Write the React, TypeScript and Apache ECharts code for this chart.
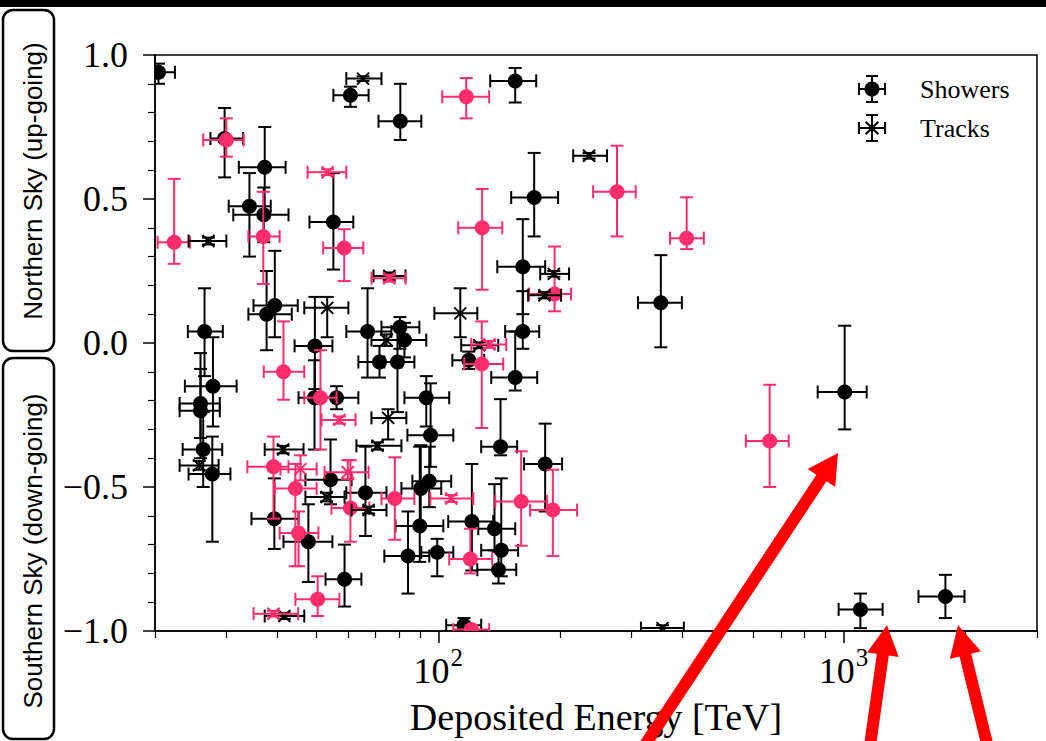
import React, { useEffect, useRef } from 'react';
import * as echarts from 'echarts';

// Each row: [energy, energyLow, energyHigh, cosZenith, cosZenithLow, cosZenithHigh]
const showersBlack: number[][] = [
  [20.4, 18.6, 22.4, 0.94, 0.90, 0.97],
  [29.7, 27.4, 33.0, 0.71, 0.575, 0.816],
  [37.3, 32.2, 42.0, 0.61, 0.45, 0.75],
  [34.2, 30.4, 38.6, 0.475, 0.30, 0.59],
  [37.1, 31.2, 42.7, 0.445, 0.35, 0.54],
  [55.1, 48.1, 61.7, 0.42, 0.255, 0.59],
  [60.7, 55.1, 67.3, 0.86, 0.82, 0.89],
  [80.6, 71.2, 90.8, 0.77, 0.705, 0.90],
  [154.8, 134.3, 174.4, 0.91, 0.835, 0.955],
  [172.4, 151.3, 197.5, 0.505, 0.37, 0.66],
  [161.6, 139.8, 183.5, 0.265, 0.10, 0.43],
  [161.6, 146.2, 177.4, 0.04, -0.02, 0.18],
  [354, 311, 399, 0.14, -0.015, 0.305],
  [1006, 863, 1140, -0.17, -0.30, 0.06],
  [1100, 972, 1248, -0.925, -0.99, -0.87],
  [1783, 1530, 1987, -0.88, -0.955, -0.805],
  [26.5, 24.1, 29.4, 0.04, -0.115, 0.19],
  [27.8, 23.7, 31.8, -0.15, -0.29, 0.02],
  [25.9, 23.0, 28.9, -0.21, -0.33, -0.035],
  [25.9, 23.0, 28.9, -0.235, -0.40, -0.09],
  [26.3, 23.4, 29.3, -0.37, -0.50, -0.24],
  [27.7, 24.2, 30.7, -0.455, -0.69, -0.325],
  [39.5, 35.0, 45.0, 0.13, 0.02, 0.32],
  [37.7, 34.0, 43.5, 0.10, -0.025, 0.25],
  [66.9, 59.3, 76.6, 0.04, -0.12, 0.19],
  [49.6, 44.2, 54.8, -0.01, -0.16, 0.16],
  [49.5, 45.2, 56.1, -0.19, -0.37, -0.06],
  [56.1, 50.9, 63.5, -0.19, -0.23, -0.15],
  [54.2, 47.0, 61.1, -0.475, -0.56, -0.335],
  [39.4, 34.6, 45.2, -0.61, -0.715, -0.47],
  [47.8, 41.5, 54.8, -0.69, -0.83, -0.56],
  [58.7, 52.7, 64.6, -0.82, -0.915, -0.70],
  [66.1, 59.3, 74.5, -0.52, -0.67, -0.36],
  [71.6, 63.5, 81.1, -0.066, -0.12, -0.01],
  [79.3, 73.6, 87.3, -0.066, -0.24, 0.05],
  [80.4, 72.4, 89.8, 0.055, -0.02, 0.09],
  [82.5, 73.6, 93.4, 0.01, -0.05, 0.07],
  [93.4, 82.5, 106.4, -0.19, -0.29, -0.115],
  [95.7, 83.9, 108.9, -0.32, -0.43, -0.14],
  [95.0, 86.3, 107.6, -0.48, -0.57, -0.36],
  [90.5, 81.1, 101.7, -0.505, -0.63, -0.355],
  [90.0, 78.4, 102.9, -0.635, -0.76, -0.36],
  [84.2, 73.6, 95.0, -0.74, -0.87, -0.585],
  [99.4, 90.8, 108.9, -0.727, -0.81, -0.68],
  [121.0, 105.8, 136.6, -0.62, -0.79, -0.42],
  [137.6, 125.5, 154.8, -0.645, -0.72, -0.49],
  [143.0, 127.6, 157.4, -0.72, -0.81, -0.47],
  [140.8, 124.8, 155.7, -0.787, -0.835, -0.725],
  [142.4, 127.6, 156.5, -0.36, -0.39, -0.195],
  [183.5, 162.8, 202.0, -0.42, -0.585, -0.28],
  [154.8, 135.1, 175.4, -0.12, -0.165, 0.04],
  [118.9, 108.3, 129.8, -0.06, -0.09, -0.03],
  [115.7, 104.6, 127.6, -0.98, -1.01, -0.955],
];

const showersPink: number[][] = [
  [30.0, 26.3, 33.1, 0.705, 0.647, 0.78],
  [22.3, 20.3, 24.4, 0.35, 0.275, 0.57],
  [37.0, 34.0, 40.6, 0.37, 0.205, 0.525],
  [58.6, 52.0, 65.3, 0.33, 0.215, 0.395],
  [117.2, 102.3, 133.5, 0.855, 0.78, 0.92],
  [128.3, 112.0, 143.8, 0.40, 0.185, 0.535],
  [276, 241, 307, 0.525, 0.37, 0.685],
  [410, 373, 452, 0.364, 0.326, 0.506],
  [193.6, 167.5, 212.6, 0.17, 0.11, 0.335],
  [41.5, 37.1, 46.7, -0.10, -0.197, 0.075],
  [51.2, 46.7, 56.1, -0.19, -0.37, -0.025],
  [128.0, 115.9, 144.6, -0.073, -0.295, 0.075],
  [39.2, 33.8, 42.7, -0.43, -0.61, -0.325],
  [44.4, 39.5, 50.1, -0.505, -0.775, -0.42],
  [45.2, 40.6, 50.6, -0.66, -0.775, -0.585],
  [60.7, 54.5, 67.6, -0.573, -0.69, -0.407],
  [50.4, 44.4, 57.0, -0.89, -0.948, -0.81],
  [78.1, 72.4, 87.3, -0.54, -0.683, -0.397],
  [120, 106.4, 135.8, -0.75, -0.80, -0.645],
  [160.1, 138.2, 185.6, -0.55, -0.704, -0.376],
  [191.7, 168.5, 220, -0.58, -0.74, -0.44],
  [657, 574, 732, -0.34, -0.50, -0.145],
  [120.6, 108.9, 133.5, -0.995, -1.0, -0.98],
];

const tracksBlack: number[][] = [
  [65.2, 59.3, 72.4, 0.918, 0.91, 0.926],
  [235.5, 215.2, 260.8, 0.65, 0.64, 0.66],
  [27.1, 24.2, 30.0, 0.354, 0.342, 0.366],
  [75.7, 69.2, 83.0, 0.233, 0.22, 0.245],
  [53.2, 46.7, 60.0, 0.122, 0.02, 0.16],
  [113.3, 97.8, 124.8, 0.103, 0.02, 0.19],
  [192.8, 178.4, 210.2, 0.24, 0.23, 0.25],
  [182.7, 166.6, 200.9, 0.166, 0.155, 0.177],
  [126.2, 113.9, 140.6, -0.008, -0.018, 0.002],
  [74.5, 68.4, 83.4, 0.01, -0.01, 0.03],
  [75.2, 68.4, 83.4, -0.26, -0.335, -0.23],
  [70.8, 62.8, 81.1, -0.357, -0.37, -0.345],
  [41.4, 37.3, 46.5, -0.37, -0.383, -0.357],
  [25.7, 23.0, 28.7, -0.425, -0.44, -0.41],
  [53.0, 47.0, 58.7, -0.535, -0.55, -0.52],
  [67.3, 61.1, 74.5, -0.58, -0.592, -0.568],
  [41.7, 37.3, 46.7, -0.948, -0.958, -0.938],
  [357.5, 316.2, 403.5, -0.99, -1.0, -0.98],
];

const tracksPink: number[][] = [
  [53.3, 47.6, 59.3, 0.593, 0.583, 0.603],
  [75.7, 68.4, 83.0, 0.225, 0.213, 0.237],
  [133.7, 120.6, 147.1, -0.005, -0.017, 0.007],
  [57.0, 51.5, 62.5, -0.267, -0.28, -0.255],
  [45.7, 40.8, 50.1, -0.438, -0.477, -0.39],
  [59.8, 52.4, 67.3, -0.449, -0.473, -0.407],
  [107.6, 95.6, 122.0, -0.54, -0.552, -0.528],
  [39.2, 35.0, 45.1, -0.94, -0.95, -0.93],
];

const xMajorTicks = [100, 1000];
const xMinorTicks = [20, 30, 40, 50, 60, 70, 80, 90, 200, 300, 400, 500, 600, 700, 800, 900, 2000, 3000];
const legendNames = ['Showers', 'Tracks'];
const xAxisTitle = 'Deposited Energy [TeV]';
const northLabel = 'Northern Sky (up-going)';
const southLabel = 'Southern Sky (down-going)';

const BLACK = '#000000';
const PINK = '#ff2d6b';
const SERIF = '"Liberation Serif", "Times New Roman", serif';
const SANS = '"Liberation Sans", Arial, sans-serif';

const showerIcon =
  'path://M0 13H28V15H0Z M0 8H2V20H0Z M26 8H28V20H26Z M13 0H15V28H13Z M8 0H20V2H8Z M8 26H20V28H8Z M14 6.5A7.5 7.5 0 1 1 13.99 6.5Z';
const trackIcon =
  'path://M0 13H28V15H0Z M0 8H2V20H0Z M26 8H28V20H26Z M13 0H15V28H13Z M8 0H20V2H8Z M8 26H20V28H8Z M7 8.4L8.4 7L21 19.6L19.6 21Z M19.6 7L21 8.4L8.4 21L7 19.6Z';

function makeRender(color: string, marker: 'circle' | 'x') {
  return (_params: any, api: any) => {
    const x = api.value(0);
    const y = api.value(3);
    const c = api.coord([x, y]);
    const l = api.coord([api.value(1), y]);
    const r = api.coord([api.value(2), y]);
    const b = api.coord([x, api.value(4)]);
    const t = api.coord([x, api.value(5)]);
    const cap = 6.5;
    const ls = { stroke: color, lineWidth: 2 };
    const line = (x1: number, y1: number, x2: number, y2: number) => ({
      type: 'line',
      shape: { x1, y1, x2, y2 },
      style: ls,
    });
    const children: any[] = [
      line(l[0], c[1], r[0], c[1]),
      line(l[0], c[1] - cap, l[0], c[1] + cap),
      line(r[0], c[1] - cap, r[0], c[1] + cap),
      line(c[0], b[1], c[0], t[1]),
      line(c[0] - cap, b[1], c[0] + cap, b[1]),
      line(c[0] - cap, t[1], c[0] + cap, t[1]),
    ];
    if (marker === 'circle') {
      children.push({ type: 'circle', shape: { cx: c[0], cy: c[1], r: 7.5 }, style: { fill: color } });
    } else {
      const s = 6;
      children.push({
        type: 'line',
        shape: { x1: c[0] - s, y1: c[1] - s, x2: c[0] + s, y2: c[1] + s },
        style: { stroke: color, lineWidth: 2 },
      });
      children.push({
        type: 'line',
        shape: { x1: c[0] - s, y1: c[1] + s, x2: c[0] + s, y2: c[1] - s },
        style: { stroke: color, lineWidth: 2 },
      });
    }
    return { type: 'group', children };
  };
}

function arrow(sx: number, sy: number, tx: number, ty: number, shaftW: number, headL: number, headHW: number) {
  const dx = tx - sx;
  const dy = ty - sy;
  const len = Math.sqrt(dx * dx + dy * dy);
  const ux = dx / len;
  const uy = dy / len;
  const px = -uy;
  const py = ux;
  const bx = tx - ux * headL;
  const by = ty - uy * headL;
  const hw = shaftW / 2;
  const points = [
    [sx + px * hw, sy + py * hw],
    [bx + px * hw, by + py * hw],
    [bx + px * headHW, by + py * headHW],
    [tx, ty],
    [bx - px * headHW, by - py * headHW],
    [bx - px * hw, by - py * hw],
    [sx - px * hw, sy - py * hw],
  ];
  return { type: 'polygon', z: 100, shape: { points }, style: { fill: '#ff0000' } };
}

const yFormatter = (v: number) => {
  const s = Math.abs(v).toFixed(1);
  return v < 0 ? '\u2212' + s : s;
};

export default function App() {
  const ref = useRef<HTMLDivElement>(null);

  useEffect(() => {
    if (!ref.current) return;
    const chart = echarts.init(ref.current, undefined, { renderer: 'svg' });
    const axisLineStyle = { color: BLACK, width: 1.5 };

    const mkSeries = (name: string, data: number[][], color: string, marker: 'circle' | 'x') => ({
      type: 'custom',
      name,
      data,
      clip: true,
      xAxisIndex: 0,
      yAxisIndex: 0,
      encode: { x: 0, y: 3 },
      renderItem: makeRender(color, marker),
      itemStyle: { color },
      silent: true,
    });

    chart.setOption({
      animation: false,
      backgroundColor: '#ffffff',
      grid: {
        left: 155,
        right: 9,
        top: 55,
        bottom: 106,
        show: true,
        borderColor: BLACK,
        borderWidth: 1.5,
        backgroundColor: 'transparent',
      },
      legend: {
        left: 858,
        top: 75,
        padding: 0,
        orient: 'vertical',
        itemWidth: 28,
        itemHeight: 28,
        itemGap: 11,
        selectedMode: false,
        data: [
          { name: legendNames[0], icon: showerIcon, itemStyle: { color: BLACK } },
          { name: legendNames[1], icon: trackIcon, itemStyle: { color: BLACK } },
        ],
        textStyle: { fontFamily: SERIF, fontSize: 26, color: BLACK, padding: [0, 0, 0, 29], lineHeight: 28 },
      },
      xAxis: [
        {
          type: 'log',
          logBase: 10,
          min: 20,
          max: 3000,
          position: 'bottom',
          axisLine: { show: true, onZero: false, lineStyle: axisLineStyle },
          axisTick: { show: true, length: 12, customValues: xMajorTicks, lineStyle: axisLineStyle },
          axisLabel: {
            customValues: xMajorTicks,
            margin: 14,
            formatter: (v: number) => `{b|10}{s|${Math.round(Math.log10(v))}}`,
            rich: {
              b: { fontFamily: SERIF, fontSize: 36, color: BLACK, lineHeight: 44, verticalAlign: 'bottom' },
              s: { fontFamily: SERIF, fontSize: 25, color: BLACK, lineHeight: 44, verticalAlign: 'top', padding: [0, 0, 0, 1] },
            },
          },
          splitLine: { show: false },
          name: xAxisTitle,
          nameLocation: 'middle',
          nameGap: 67,
          nameTextStyle: { fontFamily: SERIF, fontSize: 38, color: BLACK },
        },
        {
          type: 'log',
          logBase: 10,
          min: 20,
          max: 3000,
          position: 'bottom',
          axisLine: { show: false, onZero: false },
          axisTick: { show: true, length: 7, customValues: xMinorTicks, lineStyle: { color: BLACK, width: 1.2 } },
          axisLabel: { show: false },
          splitLine: { show: false },
        },
      ],
      yAxis: {
        type: 'value',
        min: -1,
        max: 1,
        interval: 0.5,
        axisLine: { show: true, onZero: false, lineStyle: axisLineStyle },
        axisTick: { show: true, length: 12, lineStyle: axisLineStyle },
        minorTick: { show: true, splitNumber: 5, length: 7, lineStyle: { color: BLACK, width: 1.2 } },
        splitLine: { show: false },
        minorSplitLine: { show: false },
        axisLabel: { margin: 27, fontFamily: SERIF, fontSize: 36, color: BLACK, formatter: yFormatter },
      },
      series: [
        mkSeries('Showers', showersBlack, BLACK, 'circle'),
        mkSeries('Showers (highlighted)', showersPink, PINK, 'circle'),
        mkSeries('Tracks', tracksBlack, BLACK, 'x'),
        mkSeries('Tracks (highlighted)', tracksPink, PINK, 'x'),
      ],
      graphic: [
        { type: 'rect', shape: { x: 0, y: 0, width: 1046, height: 7 }, style: { fill: BLACK } },
        {
          type: 'rect',
          shape: { x: 3, y: 10, width: 51, height: 341, r: 10 },
          style: { fill: '#ffffff', stroke: BLACK, lineWidth: 2.5 },
        },
        {
          type: 'rect',
          shape: { x: 3, y: 358, width: 51, height: 381, r: 10 },
          style: { fill: '#ffffff', stroke: BLACK, lineWidth: 2.5 },
        },
        {
          type: 'text',
          x: 33,
          y: 181,
          rotation: Math.PI / 2,
          style: { text: northLabel, font: `26px ${SANS}`, fill: BLACK, align: 'center', verticalAlign: 'middle' },
        },
        {
          type: 'text',
          x: 33,
          y: 551,
          rotation: Math.PI / 2,
          style: { text: southLabel, font: `26px ${SANS}`, fill: BLACK, align: 'center', verticalAlign: 'middle' },
        },
        arrow(635, 760, 838, 453, 12, 30, 16.5),
        arrow(868, 760, 887, 625, 12, 30, 16),
        arrow(991, 760, 958, 625, 12, 31, 16),
      ],
    });
    return () => chart.dispose();
  }, []);

  return <div ref={ref} style={{ position: 'absolute', left: 0, top: 0, width: 1046, height: 741 }} />;
}
